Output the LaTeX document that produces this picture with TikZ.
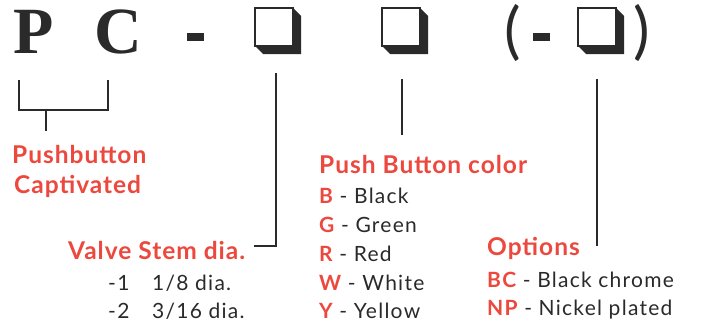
\documentclass[tikz,border=0pt]{standalone}
\usepackage{fontspec}
\setmainfont{Lato}
\newfontfamily\bigserif{Liberation Serif}
\newfontfamily\headfont[LetterSpace=4]{Lato}
\newfontfamily\itemfont[LetterSpace=6]{Lato}
\definecolor{lblred}{RGB}{236,72,62}
\definecolor{ink}{RGB}{42,42,42}
\tikzset{
  lead/.style={draw=ink, line width=2pt},
  head/.style={anchor=base west, inner sep=0pt, text=lblred, font=\headfont\fontsize{24.5}{24}\selectfont\bfseries},
  item/.style={anchor=base west, inner sep=0pt, text=ink, font=\itemfont\fontsize{21}{21}\selectfont},
  bigletter/.style={anchor=base west, inner sep=0pt, text=ink, font=\bigserif\fontsize{66}{66}\selectfont\bfseries},
  paren/.style={anchor=base west, inner sep=0pt, text=ink, font=\fontsize{62}{62}\selectfont},
}
\newcommand{\codebox}[2]{%
  \fill[ink] (#1+38,#2) -- (#1+46,#2+8) -- (#1+46,#2+46) -- (#1+8,#2+46) -- (#1,#2+38) -- cycle;
  \filldraw[fill=white, draw=ink, line width=1.2pt] (#1,#2) rectangle (#1+38,#2+38);
}
\newcommand{\code}[1]{\textcolor{lblred}{\bfseries #1}}
\begin{document}
\begin{tikzpicture}[x=1pt, y=-1pt]
\useasboundingbox (0,0) rectangle (701,324);
% code line
\node[bigletter] (p) at (13,53) {P};
\node[bigletter] (c) at (94,53) {C};
\fill[ink] (187,33) rectangle (204,41);
\codebox{255}{8}
\codebox{382}{8}
\node[paren] (lp) at (504,52) {(};
\fill[ink] (533,33) rectangle (550,41);
\codebox{578}{8}
\node[paren] (rp) at (633,52) {)};
% anchors of leaders
\coordinate (b1) at (19,80);
\coordinate (b2) at (19,110);
\coordinate (b3) at (108,110);
\coordinate (b4) at (108,80);
\coordinate (bm) at (46,110);
\coordinate (bs) at (46,131);
\coordinate (v1) at (276,73);
\coordinate (v2) at (276,246);
\coordinate (v3) at (254,246);
\coordinate (c1) at (402,79);
\coordinate (c2) at (402,135);
\coordinate (o1) at (597,79);
\coordinate (o2) at (597,246);
\draw[lead] (b1) -- (b2) -- (b3) -- (b4);
\draw[lead] (bm) -- (bs);
\draw[lead] (v1) -- (v2) -- (v3);
\draw[lead] (c1) -- (c2);
\draw[lead] (o1) -- (o2);
% labels
\node[head] (pb) at (12,163) {Pushbutton};
\node[head] (cap) at (14,193) {Captivated};
\node[head] (vs) at (68,259) {Valve Stem dia.};
\node[item] (d1) at (108,290) {-1};
\node[item] (d1t) at (152,290) {1/8 dia.};
\node[item] (d2) at (108,318) {-2};
\node[item] (d2t) at (152,318) {3/16 dia.};
\node[head] (pbc) at (319,173) {Push Button color};
\node[item] (cb) at (319,203) {\code{B} - Black};
\node[item] (cg) at (319,232) {\code{G} - Green};
\node[item] (cr) at (319,261) {\code{R} - Red};
\node[item] (cw) at (319,290) {\code{W} - White};
\node[item] (cy) at (319,318) {\code{Y} - Yellow};
\node[head] (op) at (487,255) {Options};
\node[item] (obc) at (487,287) {\code{BC} - Black chrome};
\node[item] (onp) at (487,315) {\code{NP} - Nickel plated};
\end{tikzpicture}
\end{document}
